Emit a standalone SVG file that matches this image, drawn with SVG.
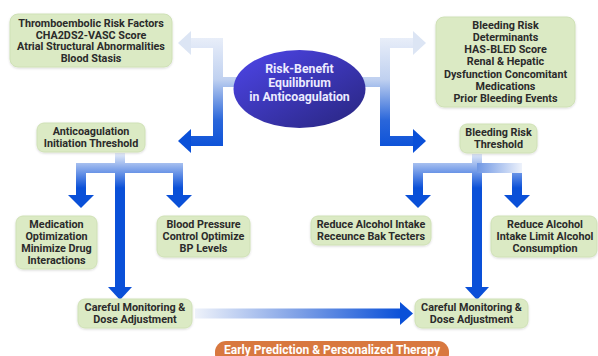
<svg xmlns="http://www.w3.org/2000/svg" width="598" height="356" viewBox="0 0 598 356">
<style>
.box{fill:#dbeac4;stroke:#cfe1b6;stroke-width:1;filter:url(#sh)}
.t{font-family:Roboto,"Liberation Sans",sans-serif;font-weight:700;font-size:10.8px;fill:#2b2b2b;text-anchor:middle}
.et{font-family:Roboto,"Liberation Sans",sans-serif;font-weight:700;font-size:12.3px;fill:#ecebff;text-anchor:middle}
.pt{font-family:Roboto,"Liberation Sans",sans-serif;font-weight:700;font-size:12px;fill:#ffffff;text-anchor:middle}
.a{fill:none;stroke-width:10;stroke-linejoin:miter;stroke-linecap:butt}
.hb{fill:#0a50d8}
</style>
<defs>
<filter id="sh" x="-10%" y="-10%" width="120%" height="130%">
<feDropShadow dx="0" dy="1" stdDeviation="1" flood-color="#000" flood-opacity="0.15"/>
</filter>
<linearGradient id="ell" x1="0" y1="0" x2="1" y2="1">
<stop offset="0" stop-color="#4e46ea"/>
<stop offset="1" stop-color="#28257e"/>
</linearGradient>
<linearGradient id="gL" gradientUnits="userSpaceOnUse" x1="0" y1="32" x2="0" y2="150">
<stop offset="0" stop-color="#eef2fa"/>
<stop offset="0.4" stop-color="#c0d1f0"/>
<stop offset="0.75" stop-color="#2a66da"/>
<stop offset="1" stop-color="#0a50d8"/>
</linearGradient>
<linearGradient id="gT" gradientUnits="userSpaceOnUse" x1="0" y1="152" x2="0" y2="188">
<stop offset="0" stop-color="#edf2fa"/>
<stop offset="1" stop-color="#0a50d8"/>
</linearGradient>
<linearGradient id="gR" gradientUnits="userSpaceOnUse" x1="477" y1="0" x2="524" y2="0">
<stop offset="0" stop-color="#6f97e4"/>
<stop offset="1" stop-color="#f3f6fc"/>
</linearGradient>
<linearGradient id="gH" gradientUnits="userSpaceOnUse" x1="195" y1="0" x2="402" y2="0">
<stop offset="0" stop-color="#eef2fa"/>
<stop offset="0.5" stop-color="#7ea0e6"/>
<stop offset="1" stop-color="#0a50d8"/>
</linearGradient>
</defs>

<g id="connectors">
<path class="a" stroke="url(#gL)" d="M190 43 H218 V141 H190"/>
<path class="a" stroke="url(#gL)" d="M218 82 H238"/>
<polygon points="178,43 191,31 191,55" fill="#dce5f4"/>
<polygon class="hb" points="178,141 191,129 191,153"/>
<path class="a" stroke="url(#gL)" d="M414 43 H385 V141 H414"/>
<polygon points="426,43 413,31 413,55" fill="#dce5f4"/>
<path class="a" stroke="url(#gL)" d="M362 82 H385"/>
<polygon class="hb" points="426,141 413,129 413,153"/>
<path class="a" stroke="url(#gT)" d="M120 153 V288"/>
<path class="a" stroke="url(#gT)" d="M81 196 V168 H178 V196"/>
<polygon class="hb" points="68,195 94,195 81,208"/>
<polygon class="hb" points="166,195 192,195 179,208"/>
<polygon class="hb" points="108,287 132,287 120,300"/>
<path class="a" stroke="url(#gT)" d="M477 154 V288"/>
<path class="a" stroke="url(#gT)" d="M418 196 V168 H477"/>
<path class="a" stroke="url(#gR)" d="M477 168 H522"/>
<path class="a" stroke="url(#gT)" d="M517 173 V196"/>
<polygon class="hb" points="405,195 431,195 418,208"/>
<polygon class="hb" points="504,195 530,195 517,208"/>
<polygon class="hb" points="465,287 489,287 477,300"/>
<path class="a" stroke="url(#gH)" d="M195 313.5 H401"/>
<polygon class="hb" points="413,313.5 400,302 400,325"/>
</g>

<g id="center">
<ellipse cx="299.5" cy="89" rx="66" ry="39" fill="url(#ell)"/>
<text class="et" x="299.5" y="72.5">Risk-Benefit</text>
<text class="et" x="299.5" y="86.5">Equilibrium</text>
<text class="et" x="299.5" y="100.5">in Anticoagulation</text>
</g>

<g id="thrombo">
<rect class="box" x="10" y="14" width="162" height="53" rx="8"/>
<text class="t" x="91" y="26.8">Thromboembolic Risk Factors</text>
<text class="t" x="91" y="38.6">CHA2DS2-VASC Score</text>
<text class="t" x="91" y="50.4">Atrial Structural Abnormalities</text>
<text class="t" x="91" y="62.3">Blood Stasis</text>
</g>

<g id="bleeding">
<rect class="box" x="436" y="17" width="139" height="90" rx="8"/>
<text class="t" x="505.5" y="28.8">Bleeding Risk</text>
<text class="t" x="505.5" y="41">Determinants</text>
<text class="t" x="505.5" y="53.2">HAS-BLED Score</text>
<text class="t" x="505.5" y="65.4">Renal &amp; Hepatic</text>
<text class="t" x="505.5" y="77.6">Dysfunction Concomitant</text>
<text class="t" x="505.5" y="89.8">Medications</text>
<text class="t" x="505.5" y="102">Prior Bleeding Events</text>
</g>

<g id="anticoag">
<rect class="box" x="37" y="123" width="108" height="29" rx="7"/>
<text class="t" x="91" y="135.3">Anticoagulation</text>
<text class="t" x="91" y="147.3">Initiation Threshold</text>
</g>

<g id="bleedthresh">
<rect class="box" x="460" y="124" width="77" height="29" rx="7"/>
<text class="t" x="498.5" y="136.3">Bleeding Risk</text>
<text class="t" x="498.5" y="148.3">Threshold</text>
</g>

<g id="medopt">
<rect class="box" x="16" y="216" width="81" height="53" rx="7"/>
<text class="t" x="56.5" y="227.8">Medication</text>
<text class="t" x="56.5" y="239.8">Optimization</text>
<text class="t" x="56.5" y="251.8">Minimize Drug</text>
<text class="t" x="56.5" y="263.8">Interactions</text>
</g>

<g id="bp">
<rect class="box" x="157" y="216" width="93" height="41" rx="7"/>
<text class="t" x="203.5" y="227.8">Blood Pressure</text>
<text class="t" x="203.5" y="239.8">Control Optimize</text>
<text class="t" x="203.5" y="251.8">BP Levels</text>
</g>

<g id="alcohol1">
<rect class="box" x="311" y="216" width="120" height="29" rx="7"/>
<text class="t" x="371" y="228.3">Reduce Alcohol Intake</text>
<text class="t" x="371" y="240.3">Receunce Bak Tecters</text>
</g>

<g id="alcohol2">
<rect class="box" x="491" y="216" width="106" height="41" rx="7"/>
<text class="t" x="545" y="227.8">Reduce Alcohol</text>
<text class="t" x="545" y="239.8">Intake Limit Alcohol</text>
<text class="t" x="545" y="251.8">Consumption</text>
</g>

<g id="monitor1">
<rect class="box" x="78" y="299" width="114" height="29" rx="7"/>
<text class="t" x="135" y="311.3">Careful Monitoring &amp;</text>
<text class="t" x="135" y="323.3">Dose Adjustment</text>
</g>

<g id="monitor2">
<rect class="box" x="415" y="299" width="113" height="29" rx="7"/>
<text class="t" x="471.5" y="311.3">Careful Monitoring &amp;</text>
<text class="t" x="471.5" y="323.3">Dose Adjustment</text>
</g>

<g id="footer">
<rect x="215" y="341" width="234" height="24" rx="11" fill="#d8783f"/>
<text class="pt" x="332" y="354">Early Prediction &amp; Personalized Therapy</text>
</g>
</svg>
